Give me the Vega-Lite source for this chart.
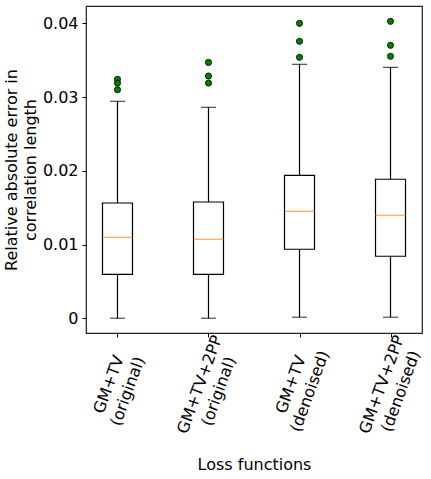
{
  "$schema": "https://vega.github.io/schema/vega-lite/v6.json",
  "width": 336,
  "height": 327,
  "autosize": {"type": "none"},
  "padding": {"left": 86, "top": 6, "right": 9, "bottom": 146},
  "background": "white",
  "config": {
    "view": {"stroke": "#222222", "strokeWidth": 1.2},
    "font": "DejaVu Sans",
    "axis": {"labelFont": "DejaVu Sans", "titleFont": "DejaVu Sans", "labelColor": "black", "titleColor": "black", "titleFontWeight": "normal", "domain": false, "grid": false, "tickColor": "black", "tickSize": 4, "labelFontSize": 16, "titleFontSize": 16}
  },
  "datasets": {
    "boxes": [
      {"loss": "GM+TV\n(original)", "lower": 0.0, "q1": 0.00596, "median": 0.01098, "q3": 0.01563, "upper": 0.02942},
      {"loss": "GM+TV+2PP\n(original)", "lower": 0.0, "q1": 0.00596, "median": 0.01071, "q3": 0.01577, "upper": 0.02861},
      {"loss": "GM+TV\n(denoised)", "lower": 0.00014, "q1": 0.00936, "median": 0.01451, "q3": 0.01939, "upper": 0.03444},
      {"loss": "GM+TV+2PP\n(denoised)", "lower": 0.00014, "q1": 0.00841, "median": 0.01397, "q3": 0.01885, "upper": 0.03403}
    ],
    "outliers": [
      {"loss": "GM+TV\n(original)", "value": 0.0324},
      {"loss": "GM+TV\n(original)", "value": 0.0319},
      {"loss": "GM+TV\n(original)", "value": 0.0310},
      {"loss": "GM+TV+2PP\n(original)", "value": 0.0347},
      {"loss": "GM+TV+2PP\n(original)", "value": 0.03285},
      {"loss": "GM+TV+2PP\n(original)", "value": 0.0319},
      {"loss": "GM+TV\n(denoised)", "value": 0.0400},
      {"loss": "GM+TV\n(denoised)", "value": 0.03756},
      {"loss": "GM+TV\n(denoised)", "value": 0.03539},
      {"loss": "GM+TV+2PP\n(denoised)", "value": 0.04027},
      {"loss": "GM+TV+2PP\n(denoised)", "value": 0.03702},
      {"loss": "GM+TV+2PP\n(denoised)", "value": 0.03553}
    ]
  },
  "encoding": {
    "x": {
      "field": "loss", "type": "nominal", "sort": null,
      "scale": {"type": "point", "padding": 0.346},
      "axis": {"title": "Loss functions", "labelAngle": -70, "labelAlign": "center", "labelBaseline": "middle", "labelExpr": "split(datum.label, '\\n')", "labelPadding": 47, "labelOffset": -9, "titlePadding": 14, "labelLineHeight": 20}
    }
  },
  "layer": [
    {
      "data": {"name": "boxes"},
      "mark": {"type": "rule", "color": "black", "strokeWidth": 1.2},
      "encoding": {
        "y": {"field": "lower", "type": "quantitative", "scale": {"domain": [-0.002, 0.04235], "nice": false, "zero": false},
          "axis": {"values": [0, 0.01, 0.02, 0.03, 0.04], "labelExpr": "datum.value == 0 ? '0' : format(datum.value, '.2f')", "title": ["Relative absolute error in", "correlation length"], "titlePadding": 4, "labelPadding": 4, "titleLineHeight": 19}},
        "y2": {"field": "q1"}
      }
    },
    {
      "data": {"name": "boxes"},
      "mark": {"type": "rule", "color": "black", "strokeWidth": 1.2},
      "encoding": {"y": {"field": "q3", "type": "quantitative"}, "y2": {"field": "upper"}}
    },
    {
      "data": {"name": "boxes"},
      "mark": {"type": "bar", "fill": "white", "stroke": "black", "strokeWidth": 1.2, "size": 30},
      "encoding": {"y": {"field": "q1", "type": "quantitative"}, "y2": {"field": "q3"}}
    },
    {
      "data": {"name": "boxes"},
      "mark": {"type": "tick", "color": "#ff7f0e", "thickness": 1.2, "size": 30},
      "encoding": {"y": {"field": "median", "type": "quantitative"}}
    },
    {
      "data": {"name": "boxes"},
      "mark": {"type": "tick", "color": "black", "thickness": 1.2, "size": 15},
      "encoding": {"y": {"field": "lower", "type": "quantitative"}}
    },
    {
      "data": {"name": "boxes"},
      "mark": {"type": "tick", "color": "black", "thickness": 1.2, "size": 15},
      "encoding": {"y": {"field": "upper", "type": "quantitative"}}
    },
    {
      "data": {"name": "outliers"},
      "mark": {"type": "point", "filled": true, "fill": "#008000", "stroke": "black", "strokeWidth": 0.8, "size": 38, "opacity": 1},
      "encoding": {"y": {"field": "value", "type": "quantitative"}}
    }
  ]
}
